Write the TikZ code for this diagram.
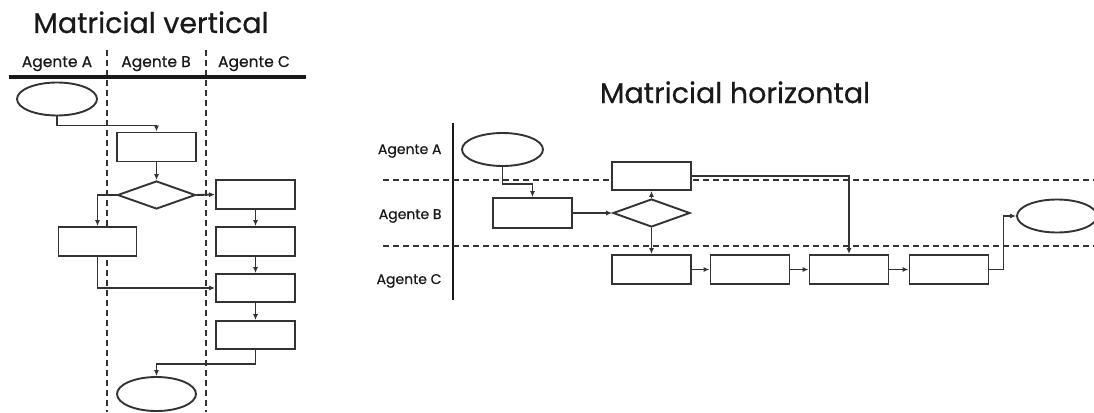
\documentclass[tikz,border=0pt]{standalone}
\usepackage{fontspec}
\setmainfont{Poppins}
\newfontfamily\pf[FakeBold=0.6]{Poppins}
\usetikzlibrary{shapes.geometric,arrows.meta}
\begin{document}
\begin{tikzpicture}[x=1pt,y=-1pt,
  ln/.style={line width=1.9pt,draw=black!80},
  box/.style={ln,rectangle,fill=white,inner sep=0pt,minimum width=79pt,minimum height=29pt},
  oval/.style={ln,ellipse,fill=white,inner sep=0pt,minimum width=80pt,minimum height=33pt},
  dia/.style={ln,diamond,fill=white,inner sep=0pt,aspect=2.8,minimum width=78pt,minimum height=28pt},
  arr/.style={ln,-{Latex[length=6pt,width=5pt]}},
  sep/.style={line width=1.8pt,draw=black!80,dash pattern=on 6pt off 4pt},
  ttl/.style={font=\pf\fontsize{28.5}{32}\selectfont,anchor=base,text=black!90},
  lbv/.style={font=\pf\fontsize{15.5}{18}\selectfont,anchor=base,text=black!90},
  lbh/.style={font=\pf\fontsize{14}{16}\selectfont,anchor=base east,text=black!90}]
\useasboundingbox (0,0) rectangle (1094,412);
\clip (0,0) rectangle (1094,412);
% ---------- vertical ----------
\node[ttl] (tv) at (151,33) {Matricial vertical};
\node[lbv] (la) at (57,67) {Agente A};
\node[lbv] (lb) at (156,67) {Agente B};
\node[lbv] (lc) at (254,67) {Agente C};
\coordinate (d1t) at (107,50); \coordinate (d1b) at (107,412);
\coordinate (d2t) at (206,50); \coordinate (d2b) at (206,412);
\draw[sep] (d1t) -- (d1b);
\draw[sep] (d2t) -- (d2b);
\coordinate (tl) at (9,77); \coordinate (tr) at (306,77);
\draw[line width=3.4pt,draw=black!90] (tl) -- (tr);
\node[oval] (vS) at (57,99) {};
\node[box] (vB1) at (156.5,147) {};
\node[dia] (vD) at (156.5,195) {};
\node[box,minimum width=78pt] (vA) at (97.5,241.5) {};
\node[box] (vC1) at (255.5,194.5) {};
\node[box] (vC2) at (255.5,241.5) {};
\node[box,minimum height=28pt] (vC3) at (255.5,288) {};
\node[box,minimum height=28pt] (vC4) at (255.5,335) {};
\node[oval,minimum width=79pt,minimum height=34pt] (vE) at (156.5,394) {};
\draw[arr] (vS.south) -- ++(0,9) -| (vB1.north);
\draw[arr] (vB1.south) -- (vD.north);
\draw[arr] (vD.west) -| (vA.north);
\draw[arr] (vD.east) -- (vC1.west);
\draw[arr] (vC1.south) -- (vC2.north);
\draw[arr] (vC2.south) -- (vC3.north);
\draw[arr] (vA.south) |- (vC3.west);
\draw[arr] (vC3.south) -- (vC4.north);
\draw[arr] (vC4.south) -- ++(0,14) -| (vE.north);
% ---------- horizontal ----------
\node[ttl] (th) at (735,103) {Matricial horizontal};
\node[lbh] (ha) at (445,154) {Agente A};
\node[lbh] (hb) at (445,219) {Agente B};
\node[lbh] (hc) at (445,284) {Agente C};
\coordinate (vl1) at (453,123); \coordinate (vl2) at (453,300);
\draw[line width=2.2pt,draw=black!90] (vl1) -- (vl2);
\coordinate (h1l) at (383,180); \coordinate (h1r) at (1094,180);
\coordinate (h2l) at (383,246); \coordinate (h2r) at (1094,246);
\draw[sep] (h1l) -- (h1r);
\draw[sep] (h2l) -- (h2r);
\node[oval,minimum width=81pt] (hS) at (502.5,149.5) {};
\node[box,minimum height=30pt] (hB1) at (532.5,213) {};
\node[dia,minimum width=77pt] (hD) at (651.5,213) {};
\node[box,minimum height=28pt] (hA2) at (651.5,176) {};
\node[box] (hC1) at (651.5,269.5) {};
\node[box] (hC2) at (750,269.5) {};
\node[box] (hC3) at (849,269.5) {};
\node[box] (hC4) at (949,269.5) {};
\node[oval] (hE) at (1057,216) {};
\draw[arr] (hS.south) -- ++(0,17) -| (hB1.north);
\draw[arr] (hB1.east) -- (hD.west);
\draw[arr] (hD.north) -- (hA2.south);
\draw[arr] (hD.south) -- (hC1.north);
\draw[arr] (hC1.east) -- (hC2.west);
\draw[arr] (hC2.east) -- (hC3.west);
\draw[arr] (hC3.east) -- (hC4.west);
\draw[arr] (hA2.east) -| (hC3.north);
\draw[arr] (hC4.east) -- ++(14,0) |- (hE.west);
\end{tikzpicture}
\end{document}
